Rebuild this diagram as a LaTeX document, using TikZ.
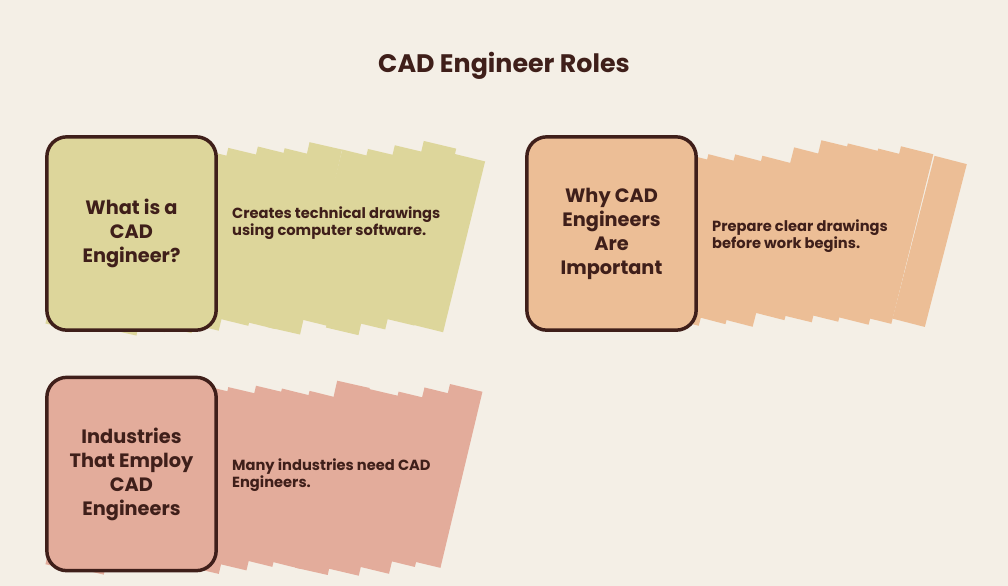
\documentclass[tikz,border=0pt]{standalone}
\usepackage{fontspec}
\setmainfont{Poppins}
\usetikzlibrary{positioning}
\definecolor{bgcol}{HTML}{F4EFE6}
\definecolor{ink}{HTML}{3F1F1A}
\definecolor{olive}{HTML}{DDD69B}
\definecolor{peach}{HTML}{ECBE96}
\definecolor{rose}{HTML}{E3AC9B}

\newcommand{\scribblefill}[4]{%
  \foreach \i in {0,...,13}{
    \pgfmathsetmacro{\xa}{#1+\i*28+rand*3}
    \pgfmathsetmacro{\ya}{#2+rand*6}
    \pgfmathsetmacro{\yb}{#3+rand*8}
    \draw[#4, line width=25pt] (\xa,\ya) -- (\xa+42,\yb);
  }}

\begin{document}
\begin{tikzpicture}[x=0.75pt,y=-0.75pt]
\tikzstyle{rolebox}=[draw=ink,line width=2.6pt,rounded corners=15pt,minimum width=127pt,minimum height=145pt,align=center,text=ink,font=\bfseries\fontsize{14.5}{18}\selectfont]
\tikzstyle{desc}=[inner sep=0pt,align=left,text=ink,font=\bfseries\fontsize{11}{13}\selectfont]

\useasboundingbox[fill=bgcol] (0,0) rectangle (1008,586);
\pgfmathsetseed{7}

\scribblefill{62}{326}{150}{olive}
\scribblefill{542}{322}{152}{peach}
\scribblefill{62}{568}{392}{rose}

\node[font=\bfseries\fontsize{19}{22}\selectfont,text=ink] (title) at (504,66) {CAD Engineer Roles};

\node[rolebox, fill=olive] (what) at (131.5,233.5) {What is a\\CAD\\Engineer?};
\node[rolebox, fill=peach] (why) at (611.5,233.5) {Why CAD\\Engineers\\Are\\Important};
\node[rolebox, fill=rose] (ind) at (131.5,474) {Industries\\That Employ\\CAD\\Engineers};

\node[desc, right=10.5pt of what, yshift=8pt] (whatd) {Creates technical drawings\\using computer software.};
\node[desc, right=10.5pt of why, yshift=-2pt] (whyd) {Prepare clear drawings\\before work begins.};
\node[desc, right=10.5pt of ind, yshift=-1pt] (indd) {Many industries need CAD\\Engineers.};
\end{tikzpicture}
\end{document}
